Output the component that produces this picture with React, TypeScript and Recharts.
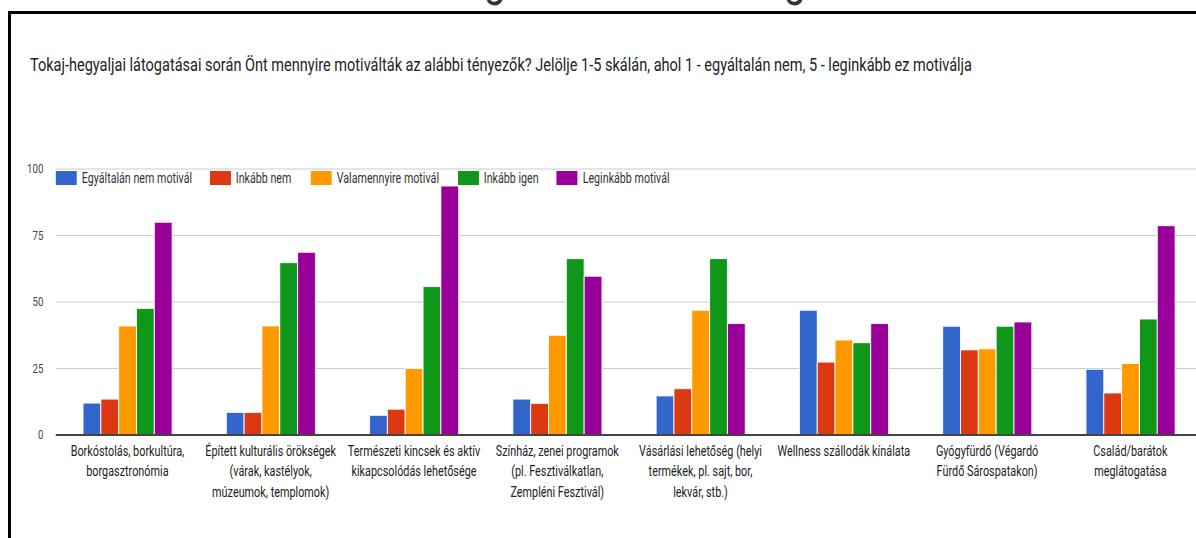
import React from 'react';
import { BarChart, Bar, XAxis, YAxis, CartesianGrid, Legend } from 'recharts';

const titleText =
  'Tokaj-hegyaljai látogatásai során Önt mennyire motiválták az alábbi tényezők? Jelölje 1-5 skálán, ahol 1 - egyáltalán nem,  5 - leginkább ez motiválja';

const categories = [
  'Borkóstolás, borkultúra, borgasztronómia',
  'Épített kulturális örökségek (várak, kastélyok, múzeumok, templomok)',
  'Természeti kincsek és aktív kikapcsolódás lehetősége',
  'Színház, zenei programok (pl. Fesztiválkatlan, Zempléni Fesztivál)',
  'Vásárlási lehetőség (helyi termékek, pl. sajt, bor, lekvár, stb.)',
  'Wellness szállodák kínálata',
  'Gyógyfürdő (Végardó Fürdő Sárospatakon)',
  'Család/barátok meglátogatása',
];

const tickLines = [
  ['Borkóstolás, borkultúra,', 'borgasztronómia'],
  ['Épített kulturális örökségek', '(várak, kastélyok,', 'múzeumok, templomok)'],
  ['Természeti kincsek és aktív', 'kikapcsolódás lehetősége'],
  ['Színház, zenei programok', '(pl. Fesztiválkatlan,', 'Zempléni Fesztivál)'],
  ['Vásárlási lehetőség (helyi', 'termékek, pl. sajt, bor,', 'lekvár, stb.)'],
  ['Wellness szállodák kínálata'],
  ['Gyógyfürdő (Végardó', 'Fürdő Sárospatakon)'],
  ['Család/barátok', 'meglátogatása'],
];

const seriesNames = [
  'Egyáltalán nem motivál',
  'Inkább nem',
  'Valamennyire motivál',
  'Inkább igen',
  'Leginkább motivál',
];
const seriesColors = ['#3366cc', '#dc3912', '#ff9900', '#109618', '#990099'];

const egyaltalanNem = [12, 8.5, 7.4, 13.5, 14.7, 46.9, 40.9, 24.7];
const inkabbNem = [13.5, 8.5, 9.7, 11.9, 17.4, 27.4, 32, 15.8];
const valamennyire = [41, 41, 25, 37.5, 46.9, 35.7, 32.4, 26.9];
const inkabbIgen = [47.6, 64.8, 55.8, 66.3, 66.3, 34.7, 40.9, 43.6];
const leginkabb = [80, 68.7, 93.6, 59.7, 41.9, 41.9, 42.5, 78.7];

const yTicks = [0, 25, 50, 75, 100];

const seriesValues = [egyaltalanNem, inkabbNem, valamennyire, inkabbIgen, leginkabb];
const data = categories.map((name, i) => {
  const row: Record<string, string | number> = { name };
  seriesNames.forEach((s, k) => {
    row[s] = seriesValues[k][i];
  });
  return row;
});

const S = 0.775;
const CHART_W = 1551;
const CHART_H = 538;
const LEGEND_H = 16;
const FONT = 'Roboto, "Noto Sans", sans-serif';
const legendItemWidths = [198.7, 130.3, 189.7, 127.7, 200];

const CategoryTick = (props: any) => {
  const { x, y, payload } = props;
  const idx = categories.indexOf(payload.value);
  const lines = idx >= 0 ? tickLines[idx] : [String(payload.value)];
  return (
    <text x={x} y={y} textAnchor="middle" fill="#222" fontSize={14} fontFamily={FONT}>
      {lines.map((l, i) => (
        <tspan key={i} x={x} y={y + 21 + i * 20.5}>
          {l}
        </tspan>
      ))}
    </text>
  );
};

const renderLegend = () => (
  <div
    style={{
      display: 'flex',
      alignItems: 'center',
      height: LEGEND_H,
      fontFamily: FONT,
      fontSize: 13.8,
      color: '#333',
      whiteSpace: 'nowrap',
    }}
  >
    {seriesNames.map((n, i) => (
      <div key={n} style={{ display: 'flex', alignItems: 'center', width: legendItemWidths[i], flex: 'none' }}>
        <div style={{ width: 27, height: 14, background: seriesColors[i], marginRight: 6.5, flex: 'none' }} />
        <span>{n}</span>
      </div>
    ))}
  </div>
);

export default function App() {
  return (
    <div
      style={{
        position: 'absolute',
        left: 0,
        top: 0,
        width: 1196,
        height: 538,
        overflow: 'hidden',
        background: '#fff',
      }}
    >
      <div
        style={{
          position: 'absolute',
          left: 0,
          top: 0,
          width: CHART_W,
          height: CHART_H,
          transform: `scaleX(${S})`,
          transformOrigin: '0 0',
        }}
      >
        <svg
          width={CHART_W}
          height={CHART_H}
          style={{ position: 'absolute', left: 0, top: 0, pointerEvents: 'none' }}
        >
          <text x={484 / S} y={-5} fontSize={50} fontFamily={FONT} fill="#333">
            g
          </text>
          <text x={784 / S} y={-5} fontSize={50} fontFamily={FONT} fill="#333">
            g
          </text>
          <text
            x={30 / S}
            y={71}
            fontSize={17.5}
            fontFamily={FONT}
            fill="#222"
            textLength={942 / S}
            lengthAdjust="spacingAndGlyphs"
          >
            {titleText}
          </text>
        </svg>
        <div style={{ position: 'absolute', left: 0, top: 0 }}>
          <BarChart
            width={CHART_W}
            height={CHART_H}
            data={data}
            margin={{ top: 169 - LEGEND_H, right: 0, bottom: 43, left: 0 }}
            barCategoryGap="19%"
            barGap={0}
          >
            <CartesianGrid vertical={false} stroke="#cccccc" strokeWidth={1.2} />
            <XAxis
              dataKey="name"
              interval={0}
              height={60}
              tickLine={false}
              tickSize={0}
              tickMargin={0}
              axisLine={{ stroke: '#444', strokeWidth: 2 }}
              tick={<CategoryTick />}
            />
            <YAxis
              domain={[0, 100]}
              ticks={yTicks}
              width={72}
              tickLine={false}
              axisLine={false}
              tickSize={0}
              tickMargin={16}
              tick={{ fontSize: 12.5, fill: '#444', fontFamily: FONT }}
            />
            <Legend
              verticalAlign="top"
              align="left"
              content={renderLegend}
              wrapperStyle={{ top: 170, left: 72, width: 1100, height: LEGEND_H }}
            />
            {seriesNames.map((s, k) => (
              <Bar
                key={s}
                dataKey={s}
                fill={seriesColors[k]}
                stroke="#ffffff"
                strokeWidth={1}
                isAnimationActive={false}
              />
            ))}
          </BarChart>
        </div>
      </div>
      <div style={{ position: 'absolute', left: 8, top: 11, width: 1188, height: 3, background: '#000' }} />
      <div style={{ position: 'absolute', left: 8, top: 11, width: 3, height: 527, background: '#000' }} />
    </div>
  );
}
